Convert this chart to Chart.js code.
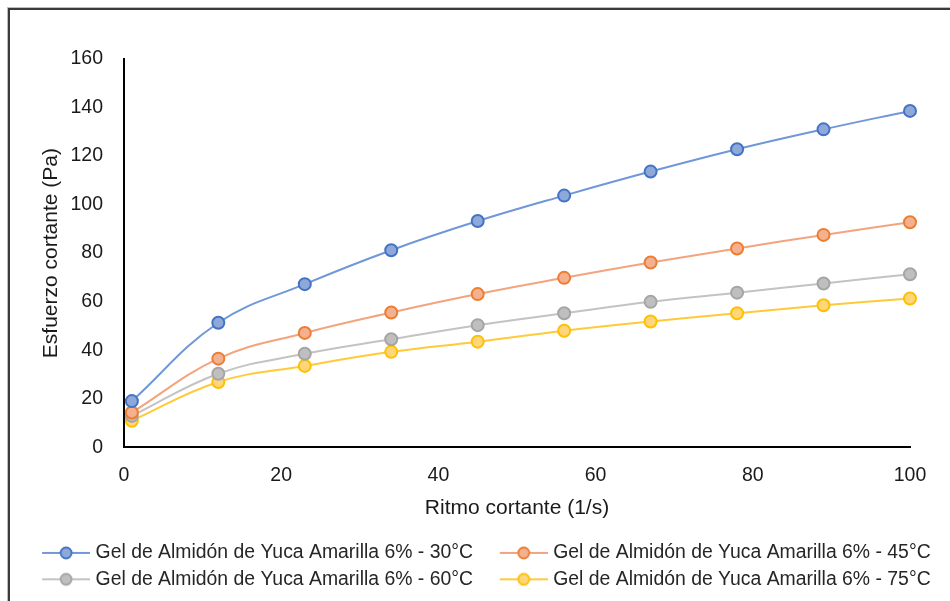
<!DOCTYPE html>
<html>
<head>
<meta charset="utf-8">
<script src="https://cdn.jsdelivr.net/npm/chart.js@4.4.1/dist/chart.umd.min.js"></script>
<style>
  html, body { margin: 0; padding: 0; background: #ffffff; }
  #wrap { position: relative; width: 950px; height: 601px; overflow: hidden; }
  #chart { position: absolute; left: 0; top: 0; }
  #frame {
    position: absolute; left: 8px; top: 8px; width: 960px; height: 620px;
    border-left: 2px solid #3a3a3a; border-top: 2px solid #3a3a3a;
    box-shadow: -1px -1px 0 #bdbdbd; pointer-events: none;
  }
</style>
</head>
<body>
<div id="wrap">
  <canvas id="chart" width="950" height="601"></canvas>
  <div id="frame"></div>
</div>
<script>
// Shear rate (1/s)
const shearRate = [1, 12, 23, 34, 45, 56, 67, 78, 89, 100];

// Shear stress (Pa) per gel temperature
const stress30 = [19.0, 51.3, 67.2, 81.2, 93.2, 103.7, 113.6, 122.8, 131.0, 138.6];
const stress45 = [14.3, 36.5, 47.1, 55.5, 63.1, 69.8, 76.1, 81.9, 87.5, 92.7];
const stress60 = [12.9, 30.3, 38.5, 44.5, 50.3, 55.2, 59.9, 63.7, 67.5, 71.3];
const stress75 = [10.9, 26.9, 33.5, 39.3, 43.5, 48.0, 51.8, 55.2, 58.5, 61.3];

const seriesLabels = [
  'Gel de Almidón de Yuca Amarilla 6% - 30°C',
  'Gel de Almidón de Yuca Amarilla 6% - 45°C',
  'Gel de Almidón de Yuca Amarilla 6% - 60°C',
  'Gel de Almidón de Yuca Amarilla 6% - 75°C'
];

const xTicks = [0, 20, 40, 60, 80, 100];
const yTicks = [0, 20, 40, 60, 80, 100, 120, 140, 160];

const palette = [
  { line: '#7097d8', border: '#4472c4', fill: '#8fa8da' },
  { line: '#f3a47f', border: '#ed7d31', fill: '#f4b18f' },
  { line: '#c3c3c3', border: '#a5a5a5', fill: '#bfbfbf' },
  { line: '#ffca3a', border: '#ffc000', fill: '#ffd67a' }
];

const FONT = "'Liberation Sans', Arial, sans-serif";

// Legend swatch: short line with a marker in the middle
function makeSwatch(c) {
  const cv = document.createElement('canvas');
  cv.width = 72; cv.height = 16;
  const g = cv.getContext('2d');
  g.strokeStyle = c.line; g.lineWidth = 2;
  g.beginPath(); g.moveTo(24, 8); g.lineTo(72, 8); g.stroke();
  g.beginPath(); g.arc(48, 8, 5.5, 0, Math.PI * 2);
  g.fillStyle = c.fill; g.fill();
  g.strokeStyle = c.border; g.lineWidth = 1.8; g.stroke();
  return cv;
}
const swatches = palette.map(makeSwatch);

function toPoints(ys) {
  return shearRate.map((x, i) => ({ x: x, y: ys[i] }));
}

const allSeries = [stress30, stress45, stress60, stress75];

const datasets = allSeries.map((ys, i) => ({
  label: seriesLabels[i],
  data: toPoints(ys),
  borderColor: palette[i].line,
  borderWidth: 2,
  backgroundColor: palette[i].fill,
  pointBackgroundColor: palette[i].fill,
  pointBorderColor: palette[i].border,
  pointBorderWidth: 2,
  pointRadius: 6,
  pointHoverRadius: 6,
  pointStyle: 'circle',
  tension: 0.4,
  fill: false,
  clip: false
}));

new Chart(document.getElementById('chart'), {
  type: 'line',
  data: { datasets: datasets },
  options: {
    responsive: false,
    animation: false,
    events: [],
    layout: { padding: { left: 3, right: 0, top: 59, bottom: 2 } },
    scales: {
      x: {
        type: 'linear',
        min: 0, max: 100,
        afterBuildTicks: s => { s.ticks = xTicks.map(v => ({ value: v })); },
        afterFit: s => { s.height = 89; },
        grid: { display: false, drawTicks: false },
        border: { display: true, color: '#000000', width: 2 },
        ticks: { padding: 17, color: '#1a1a1a', font: { family: FONT, size: 19.5 } },
        title: {
          display: true, text: 'Ritmo cortante (1/s)', color: '#1a1a1a',
          font: { family: FONT, size: 21 }, padding: { top: 0, bottom: 15 }
        }
      },
      y: {
        type: 'linear',
        min: 0, max: 160,
        afterBuildTicks: s => { s.ticks = yTicks.map(v => ({ value: v })); },
        afterFit: s => { s.width = 121; },
        grid: { display: false, drawTicks: false },
        border: { display: true, color: '#000000', width: 2 },
        ticks: { padding: 21, color: '#1a1a1a', font: { family: FONT, size: 19.5 } },
        title: {
          display: true, text: 'Esfuerzo cortante (Pa)', color: '#1a1a1a',
          font: { family: FONT, size: 21 }, padding: { top: 36, bottom: 0 }
        }
      },
      // empty spacer on the right edge of the plot
      yRight: {
        position: 'right',
        display: true,
        afterFit: s => { s.width = 40; },
        grid: { display: false, drawTicks: false },
        border: { display: false },
        ticks: { display: false }
      }
    },
    plugins: {
      tooltip: { enabled: false },
      legend: {
        position: 'bottom',
        labels: {
          usePointStyle: true,
          pointStyleWidth: 63.5,
          padding: 7,
          color: '#262626',
          font: { family: FONT, size: 19.4 },
          generateLabels: chart => {
            const items = Chart.defaults.plugins.legend.labels.generateLabels(chart);
            items.forEach((it, i) => { it.pointStyle = swatches[i]; });
            return items;
          }
        }
      }
    }
  }
});
</script>
</body>
</html>
